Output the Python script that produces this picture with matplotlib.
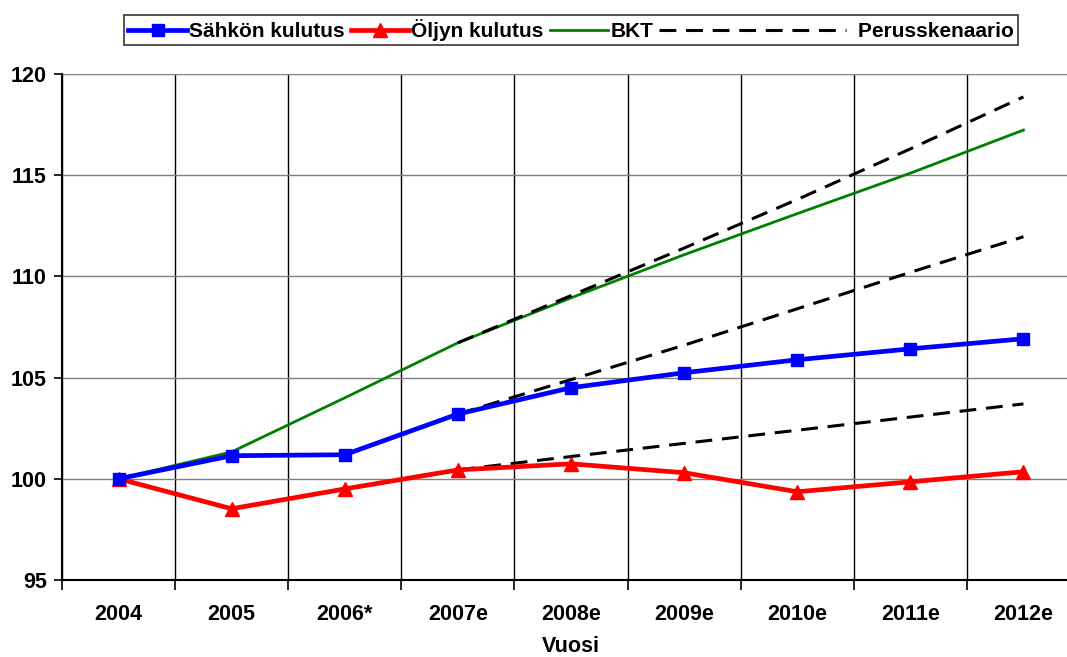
import numpy as np
import matplotlib.pyplot as plt
from matplotlib.legend_handler import HandlerLine2D

plt.rcParams['font.family'] = ['Liberation Sans', 'DejaVu Sans']
plt.rcParams['font.weight'] = 'bold'

#Data
years = ['2004', '2005', '2006*', '2007e', '2008e', '2009e', '2010e', '2011e', '2012e']
sahko = [100.0, 101.14, 101.19, 103.2, 104.5, 105.24, 105.88, 106.42, 106.92]
oljy = [100.0, 98.52, 99.5, 100.44, 100.74, 100.3, 99.36, 99.85, 100.35]
bkt = [100.0, 101.33, 104.0, 106.72, 108.94, 111.07, 113.1, 115.1, 117.23]

#Baseline scenarios from 2007e onwards
scen_years = years[3:]
scen_high = [106.72, 109.05, 111.4, 113.8, 116.3, 118.87]
scen_mid = [103.2, 104.9, 106.6, 108.4, 110.2, 111.96]
scen_low = [100.44, 101.1, 101.75, 102.4, 103.05, 103.7]


#Longer line for dashed legend entry
class LongHandler(HandlerLine2D):
    def __init__(self, extra, **kw):
        super().__init__(**kw)
        self.extra = extra

    def create_artists(self, legend, orig_handle, xdescent, ydescent, width, height, fontsize, trans):
        return super().create_artists(legend, orig_handle, xdescent, ydescent,
                                      width * self.extra, height, fontsize, trans)


fig = plt.figure(figsize=(10.67, 6.57), dpi=100)
ax = fig.add_axes([62 / 1067, 1 - 580 / 657, (1080 - 62) / 1067, (580 - 74) / 657])

x = np.arange(len(years))
xs = np.arange(3, len(years))

dash = (0, (5.5, 3.2))
h4, = ax.plot(xs, scen_high, color='black', lw=2.2, linestyle=dash, zorder=4)
ax.plot(xs, scen_mid, color='black', lw=2.2, linestyle=dash, zorder=4)
ax.plot(xs, scen_low, color='black', lw=2.2, linestyle=dash, zorder=4)

h3, = ax.plot(x, bkt, color='#008000', lw=2, zorder=3)
h2, = ax.plot(x, oljy, color='#FF0000', lw=3.4, marker='^', markersize=9.5, zorder=5)
h1, = ax.plot(x, sahko, color='#0000FF', lw=3.4, marker='s', markersize=9, zorder=6)

ax.set_xlim(-0.5, len(years) - 0.5)
ax.set_ylim(95, 120)
ax.set_yticks([95, 100, 105, 110, 115, 120])
ax.set_xticks(x)
ax.set_xticklabels(years)
ax.set_xticks(np.arange(-0.5, len(years), 1), minor=True)

# Grid: gray horizontal, black vertical
ax.grid(axis='y', color='#808080', lw=1)
ax.grid(axis='x', which='minor', color='black', lw=1)
ax.set_axisbelow(True)

ax.tick_params(axis='x', which='major', length=0, labelsize=15.5, pad=17)
ax.tick_params(axis='x', which='minor', length=7, width=1.2, direction='out')
ax.tick_params(axis='y', length=6, width=1.2, direction='out', labelsize=15.5, pad=5)
for lab in ax.get_xticklabels() + ax.get_yticklabels():
    lab.set_fontweight('bold')

ax.spines['top'].set_visible(False)
ax.spines['right'].set_visible(False)
ax.spines['left'].set_linewidth(1.5)
ax.spines['bottom'].set_linewidth(1.5)

ax.set_xlabel('Vuosi', fontsize=15.5, fontweight='bold', labelpad=8)

leg = fig.legend([h1, h2, h3, h4],
                 ['Sähkön kulutus', 'Öljyn kulutus', 'BKT', ' ' * 24 + 'Perusskenaario'],
                 loc='center', bbox_to_anchor=(571 / 1067, 1 - 30 / 657), ncol=4,
                 frameon=True, fancybox=False, fontsize=15, handlelength=2.8,
                 handletextpad=0.1, columnspacing=0.3, borderpad=0.2,
                 handler_map={h4: LongHandler(3.2)})
leg.get_frame().set_edgecolor('black')
leg.get_frame().set_linewidth(1.2)
for t in leg.get_texts():
    t.set_fontweight('bold')

fig.savefig('out.png', dpi=100)
